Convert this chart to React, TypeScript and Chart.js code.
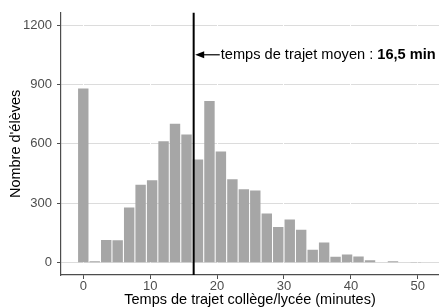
import React, { useEffect, useRef } from "react";
import { Chart, registerables } from "chart.js";

Chart.register(...registerables);

// Histogram bins (centre of each bin, minutes) and number of pupils per bin
const BIN_CENTERS = [0, 1.71, 3.43, 5.14, 6.86, 8.57, 10.29, 12, 13.71, 15.43, 17.14, 18.86, 20.57, 22.29, 24, 25.71, 27.43, 29.14, 30.86, 32.57, 34.29, 36, 37.71, 39.43, 41.14, 42.86, 44.57, 46.29, 48, 49.71, 51.43];
const COUNTS = [880, 7, 115, 113, 279, 394, 416, 613, 702, 647, 521, 817, 562, 421, 371, 365, 248, 181, 218, 167, 65, 102, 30, 42, 31, 12, 3, 7, 3, 4, 2];

const X_TICKS = [0, 10, 20, 30, 40, 50];
const Y_TICKS = [0, 300, 600, 900, 1200];

const MEAN_TIME = 16.5;
const ANNOTATION_Y = 1050;
const ANNOTATION_START = 20.55;
const ANNOTATION_TEXT = "temps de trajet moyen : ";
const ANNOTATION_BOLD = "16,5 min";

const X_TITLE = "Temps de trajet collège/lycée (minutes)";
const Y_TITLE = "Nombre d'élèves";

const FONT = "'Liberation Sans', Arial, Helvetica, sans-serif";

const meanPlugin = {
  id: "meanLine",
  afterDatasetsDraw(chart: any) {
    const { ctx, chartArea, scales } = chart;
    const x = scales.x.getPixelForValue(MEAN_TIME);
    ctx.save();
    ctx.strokeStyle = "#000000";
    ctx.lineWidth = 2;
    ctx.beginPath();
    ctx.moveTo(x, chartArea.top);
    ctx.lineTo(x, chartArea.bottom);
    ctx.stroke();

    const y = scales.y.getPixelForValue(ANNOTATION_Y);
    const xs = scales.x.getPixelForValue(ANNOTATION_START);
    const tip = x + 1.5;
    ctx.lineWidth = 1.2;
    ctx.beginPath();
    ctx.moveTo(xs - 1, y);
    ctx.lineTo(tip + 6, y);
    ctx.stroke();
    ctx.fillStyle = "#000000";
    ctx.beginPath();
    ctx.moveTo(tip, y);
    ctx.lineTo(tip + 9, y - 3.5);
    ctx.lineTo(tip + 9, y + 3.5);
    ctx.closePath();
    ctx.fill();

    ctx.textBaseline = "middle";
    ctx.textAlign = "left";
    ctx.font = `14.6px ${FONT}`;
    ctx.fillText(ANNOTATION_TEXT, xs, y);
    const w = ctx.measureText(ANNOTATION_TEXT).width;
    ctx.font = `bold 14.6px ${FONT}`;
    ctx.fillText(ANNOTATION_BOLD, xs + w, y);
    ctx.restore();
  },
};

export default function App() {
  const ref = useRef<HTMLCanvasElement>(null);

  useEffect(() => {
    if (!ref.current) return;
    const chart = new Chart(ref.current, {
      type: "bar",
      data: {
        datasets: [
          {
            data: BIN_CENTERS.map((x, i) => ({ x, y: COUNTS[i] })),
            backgroundColor: "#a6a6a6",
            borderWidth: 0,
            barPercentage: 0.91,
            categoryPercentage: 1,
          },
        ],
      },
      options: {
        animation: false,
        responsive: false,
        devicePixelRatio: 1,
        layout: { padding: { top: 6, right: 0, left: 0, bottom: 0 } },
        plugins: {
          legend: { display: false },
          tooltip: { enabled: false },
        },
        scales: {
          x: {
            type: "linear",
            offset: false,
            min: -3.33,
            max: 53.17,
            afterBuildTicks: (s: any) => {
              s.ticks = X_TICKS.map((v) => ({ value: v }));
            },
            afterFit: (s: any) => {
              s.height = 32;
            },
            grid: {
              z: -1,
              offset: false,
              color: "#ffffff",
              lineWidth: 1,
              drawTicks: true,
              tickLength: 4,
              tickColor: "#4d4d4d",
            },
            border: { display: true, color: "#4d4d4d", width: 1.2 },
            ticks: {
              color: "#4d4d4d",
              font: { family: FONT, size: 13 },
              padding: 0,
              maxRotation: 0,
              callback: (v: any) => String(v),
            },
            title: {
              display: true,
              text: X_TITLE,
              color: "#000000",
              font: { family: FONT, size: 14.5, lineHeight: 0.9 },
              padding: 0,
            },
          },
          y: {
            type: "linear",
            min: -62,
            max: 1262,
            afterBuildTicks: (s: any) => {
              s.ticks = Y_TICKS.map((v) => ({ value: v }));
            },
            afterFit: (s: any) => {
              s.width = 61;
            },
            grid: {
              z: -2,
              color: "#dcdcdc",
              lineWidth: 1,
              drawTicks: true,
              tickLength: 4,
              tickColor: "#4d4d4d",
            },
            border: { display: true, color: "#4d4d4d", width: 1.2 },
            ticks: {
              color: "#4d4d4d",
              font: { family: FONT, size: 13 },
              padding: 5,
              callback: (v: any) => String(v),
            },
            title: {
              display: true,
              text: Y_TITLE,
              color: "#000000",
              font: { family: FONT, size: 14.5, lineHeight: 1.2 },
              padding: { top: 7, bottom: 0 },
            },
          },
        },
      },
      plugins: [meanPlugin],
    });
    return () => chart.destroy();
  }, []);

  return (
    <div style={{ position: "fixed", left: 0, top: 0, width: 439, height: 307, background: "#ffffff" }}>
      <canvas ref={ref} width={439} height={307} style={{ width: "439px", height: "307px", display: "block" }} />
    </div>
  );
}
